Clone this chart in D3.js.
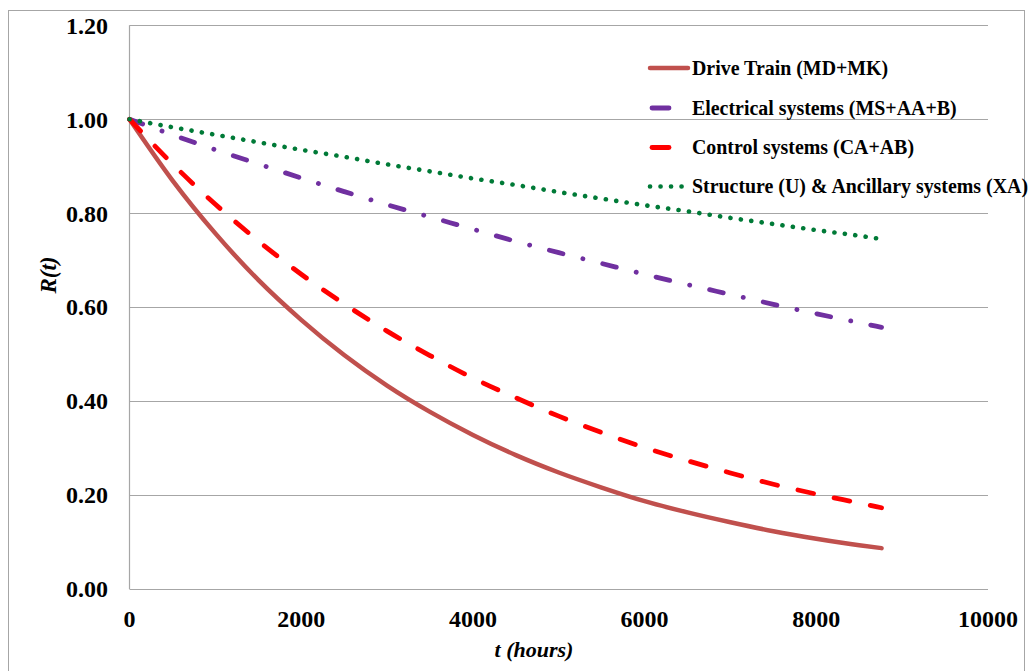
<!DOCTYPE html>
<html>
<head>
<meta charset="utf-8">
<script src="https://cdn.jsdelivr.net/npm/d3@7"></script>
<style>
  html, body { margin: 0; padding: 0; background: #fff; }
  svg { display: block; }
  text { font-family: "Liberation Serif", "Times New Roman", serif; font-weight: bold; fill: #000; }
</style>
</head>
<body>
<svg id="chart" width="1028" height="671"></svg>
<script>
// ---- data ----
const hours = [0, 500, 1000, 1500, 2000, 2500, 3000, 3500, 4000, 4500, 5000, 5500, 6000, 6500, 7000, 7500, 8000, 8500, 8760];
const driveTrain = [1.000, 0.870, 0.757, 0.658, 0.573, 0.498, 0.433, 0.377, 0.328, 0.285, 0.248, 0.216, 0.187, 0.163, 0.142, 0.123, 0.107, 0.093, 0.087];
const electrical = [1.000, 0.967, 0.935, 0.905, 0.875, 0.846, 0.818, 0.792, 0.766, 0.740, 0.716, 0.693, 0.670, 0.648, 0.627, 0.606, 0.586, 0.567, 0.557];
const control    = [1.000, 0.905, 0.819, 0.741, 0.670, 0.607, 0.549, 0.497, 0.449, 0.407, 0.368, 0.333, 0.301, 0.273, 0.247, 0.223, 0.202, 0.183, 0.173];
const structure  = [1.000, 0.983, 0.967, 0.951, 0.935, 0.920, 0.904, 0.889, 0.874, 0.860, 0.845, 0.831, 0.817, 0.804, 0.790, 0.777, 0.764, 0.752, 0.745];
const seriesNames = ["Drive Train (MD+MK)", "Electrical systems (MS+AA+B)", "Control systems (CA+AB)", "Structure (U) & Ancillary systems (XA)"];
const xTicks = [0, 2000, 4000, 6000, 8000, 10000];
const yTicks = [0, 0.2, 0.4, 0.6, 0.8, 1.0, 1.2];

// ---- styles ----
const styles = [
  { color: "#C0504D", width: 4.5, dash: null },
  { color: "#7030A0", width: 4.8, dash: "14 20.5 0.1 20.4" },
  { color: "#FF0000", width: 4.8, dash: "16 21" },
  { color: "#007A37", width: 4.6, dash: "0.1 10.4" }
];
const seriesValues = [driveTrain, electrical, control, structure];

const svg = d3.select("#chart");
const plotLeft = 129.5, plotRight = 988, plotTop = 25.3, plotBottom = 589;

// outer chart border
svg.append("rect")
  .attr("x", 8.5).attr("y", 10.5).attr("width", 1016).attr("height", 700)
  .attr("fill", "none").attr("stroke", "#A6A6A6").attr("stroke-width", 1);

const x = d3.scaleLinear().domain([0, 10000]).range([plotLeft, plotRight]);
const y = d3.scaleLinear().domain([0, 1.2]).range([plotBottom, plotTop]);

// gridlines
svg.append("g").selectAll("line").data(yTicks).join("line")
  .attr("x1", plotLeft).attr("x2", plotRight)
  .attr("y1", d => Math.round(y(d)) + 0.5).attr("y2", d => Math.round(y(d)) + 0.5)
  .attr("stroke", "#A6A6A6").attr("stroke-width", 1.2);

// left axis line
svg.append("line")
  .attr("x1", plotLeft).attr("x2", plotLeft).attr("y1", plotTop).attr("y2", plotBottom)
  .attr("stroke", "#A6A6A6").attr("stroke-width", 1.2);

// y tick labels
svg.append("g").selectAll("text").data(yTicks).join("text")
  .attr("x", 108).attr("y", d => y(d) + 8.3)
  .attr("text-anchor", "end").attr("font-size", 24)
  .text(d => d3.format(".2f")(d));

// x tick labels
svg.append("g").selectAll("text").data(xTicks).join("text")
  .attr("x", d => x(d)).attr("y", 627)
  .attr("text-anchor", "middle").attr("font-size", 24)
  .text(d => d);

// axis titles
svg.append("text")
  .attr("x", 534).attr("y", 657).attr("text-anchor", "middle")
  .attr("font-size", 22).attr("font-style", "italic")
  .text("t (hours)");

const yt = svg.append("text")
  .attr("transform", "translate(56,275) rotate(-90)")
  .attr("text-anchor", "middle").attr("font-size", 23).attr("font-style", "italic");
yt.append("tspan").text("R(");
yt.append("tspan").text("t");
yt.append("tspan").text(")");

// series lines
const line = d3.line()
  .x((d, i) => x(hours[i]))
  .y(d => y(d))
  .curve(d3.curveMonotoneX);

seriesValues.forEach((vals, k) => {
  const s = styles[k];
  svg.append("path")
    .datum(vals)
    .attr("d", line)
    .attr("fill", "none")
    .attr("stroke", s.color)
    .attr("stroke-width", s.width)
    .attr("stroke-linecap", "round")
    .attr("stroke-linejoin", "round")
    .attr("stroke-dasharray", s.dash);
});

// legend
const legendY = [68, 108, 147.5, 186.5];
const legendSample = [[650, 688], [652, 669], [652, 669], [650, 686]];
const lg = svg.append("g");
seriesNames.forEach((name, k) => {
  const s = styles[k];
  lg.append("line")
    .attr("x1", legendSample[k][0]).attr("x2", legendSample[k][1])
    .attr("y1", legendY[k]).attr("y2", legendY[k])
    .attr("stroke", s.color).attr("stroke-width", s.width)
    .attr("stroke-linecap", "round")
    .attr("stroke-dasharray", k === 3 ? s.dash : null);
  lg.append("text")
    .attr("x", 692).attr("y", legendY[k] + 6.8)
    .attr("font-size", 19.9)
    .text(name);
});
</script>
</body>
</html>
